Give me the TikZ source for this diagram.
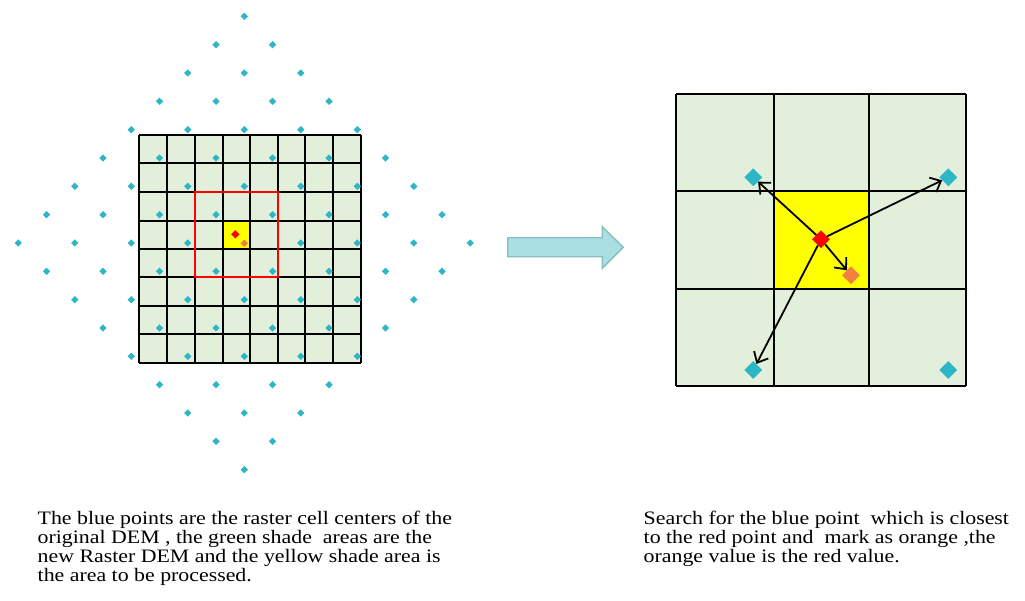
\documentclass[tikz,border=0pt]{standalone}
\usepackage{fontspec}
\setmainfont{Liberation Serif}[FakeStretch=1.15]
\usetikzlibrary{shapes.geometric,arrows.meta}
\definecolor{cellgreen}{HTML}{E2EFDA}
\definecolor{ptblue}{HTML}{2DB7C6}
\definecolor{ptorange}{HTML}{F2813F}
\definecolor{ptred}{HTML}{FF0000}
\definecolor{cellyellow}{HTML}{FFFF00}
\definecolor{arrowfill}{HTML}{A9DFE1}
\definecolor{arrowedge}{HTML}{86BDBF}
\begin{document}
\begin{tikzpicture}[x=1pt,y=-1pt,
  dmd/.style={diamond,inner sep=0pt,minimum size=#1,draw=none},
  smallblue/.style={dmd=7.5pt,fill=ptblue},
  bigblue/.style={dmd=18pt,fill=ptblue},
  gridline/.style={line width=2pt,black},
  arr/.style={line width=1.8pt,-{Straight Barb[length=9pt,width=16pt,line width=1.8pt]}},
  caption/.style={anchor=north west,inner sep=0pt,align=left,
    font=\fontsize{19}{19.3}\selectfont}
]
\useasboundingbox (0,0) rectangle (1025,601);
% ---------- left raster ----------
\fill[cellgreen] (139,135) rectangle (361,363);
\fill[cellyellow] (223,221) rectangle (250,249);
\foreach \xx in {139,167,195,223,250,278,305,333,361}
  \draw[gridline] (\xx,135) -- (\xx,363);
\foreach \yy in {135,163,192,221,249,277,306,334,363}
  \draw[gridline] (139,\yy) -- (361,\yy);
\draw[line width=2pt,ptred] (195,192) rectangle (278,277);
\foreach \i in {-8,...,8}{
  \foreach \j in {-8,...,8}{
    \pgfmathtruncatemacro{\ok}{(mod(abs(\i+\j),2)==0)&&(abs(\i)+abs(\j)<=8)&&!((\i==0)&&(\j==0))}
    \ifnum\ok=1
      \node[smallblue] (b\i x\j) at ({244.3+28.25*\i},{243+28.33*\j}) {};
    \fi
  }
}
\node[dmd=8.5pt,fill=ptred] (lred) at (235.3,234.3) {};
\node[dmd=7.5pt,fill=ptorange] (lorange) at (244.3,243.3) {};
% ---------- block arrow ----------
\draw[line width=1.3pt,draw=arrowedge,fill=arrowfill]
  (507.7,237.7) -- (602.3,237.7) -- (602.3,226.7) -- (623.3,247.3)
  -- (602.3,268.3) -- (602.3,256.7) -- (507.7,256.7) -- cycle;
% ---------- right raster ----------
\fill[cellgreen] (676,94) rectangle (966,386);
\fill[cellyellow] (774,191) rectangle (869,289);
\foreach \xx in {676,774,869,966}
  \draw[gridline] (\xx,94) -- (\xx,386);
\foreach \yy in {94,191,289,386}
  \draw[gridline] (676,\yy) -- (966,\yy);
\node[bigblue] (tl) at (753.3,177.3) {};
\node[bigblue] (tr) at (948.3,177.3) {};
\node[bigblue] (bl) at (753.3,370) {};
\node[bigblue] (br) at (948.3,370) {};
\node[dmd=18pt,fill=ptorange] (ro) at (851,275.3) {};
\node[dmd=18pt,fill=ptred] (rr) at (821,239.3) {};
\draw[arr] (rr) -- (tl);
\draw[arr] (rr) -- (tr);
\draw[arr] (rr) -- (bl);
\draw[arr] (rr) -- (ro);
% ---------- captions ----------
\node[caption] (capl) at (37.5,510.5) {The blue points are the raster cell centers of the\\
original DEM , the green shade\ \ areas are the\\
new Raster DEM and the yellow shade area is\\
the area to be processed.};
\node[caption] (capr) at (643.5,510.5) {Search for the blue point\ \ which is closest\\
to the red point and\ \ mark as orange ,the\\
orange value is the red value.};
\end{tikzpicture}
\end{document}
